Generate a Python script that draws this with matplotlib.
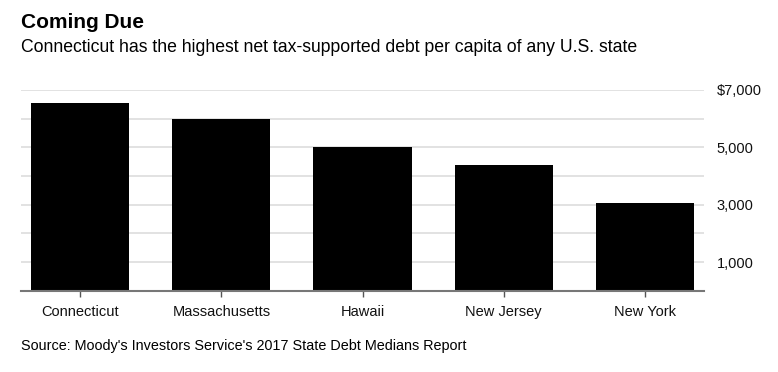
import matplotlib
matplotlib.use("Agg")
import matplotlib.pyplot as plt

states = ["Connecticut", "Massachusetts", "Hawaii", "New Jersey", "New York"]
debt_per_capita = [6544, 5983, 5011, 4388, 3054]
ytick_values = [1000, 3000, 5000, 7000]
ytick_labels = ["1,000", "3,000", "5,000", "$7,000"]

plt.rcParams['font.family'] = ['Liberation Sans', 'DejaVu Sans']

W, H = 778, 372
fig = plt.figure(figsize=(W / 100, H / 100), dpi=100)
left, right = 21 / W, 704 / W
bottom, top = 1 - 290.7 / H, 1 - 90 / H
ax = fig.add_axes([left, bottom, right - left, top - bottom])

x = range(len(states))
ax.bar(x, debt_per_capita, width=0.695, color="black", zorder=3)
ax.set_xlim(-0.42, len(states) - 1 + 0.42)
ax.set_ylim(0, 7000)

ax.set_yticks(ytick_values)
ax.set_yticklabels(ytick_labels)
for v in range(1000, 7001, 1000):
    ax.axhline(v, color="#dddddd", lw=1.2, zorder=1)
ax.yaxis.tick_right()
ax.tick_params(axis="y", length=0, pad=9, labelsize=10.5, labelcolor="#111111")
ax.set_xticks(list(x))
ax.set_xticklabels(states)
ax.tick_params(axis="x", length=4, width=1, color="#555555", pad=6,
               labelsize=10.5, labelcolor="#111111")

for s in ["top", "right", "left"]:
    ax.spines[s].set_visible(False)
ax.spines["bottom"].set_color("#777777")
ax.spines["bottom"].set_linewidth(1.5)
ax.spines["bottom"].set_zorder(4)

fig.text(21 / W, 1 - 27.5 / H, "Coming Due", fontsize=15, fontweight="bold",
         color="black", ha="left", va="baseline")
fig.text(21 / W, 1 - 52.5 / H, "Connecticut has the highest net tax-supported debt per capita of any U.S. state",
         fontsize=12.7, color="black", ha="left", va="baseline")
fig.text(21 / W, 1 - 350 / H, "Source: Moody's Investors Service's 2017 State Debt Medians Report",
         fontsize=10.4, color="black", ha="left", va="baseline")

fig.savefig("out.png", dpi=100)
